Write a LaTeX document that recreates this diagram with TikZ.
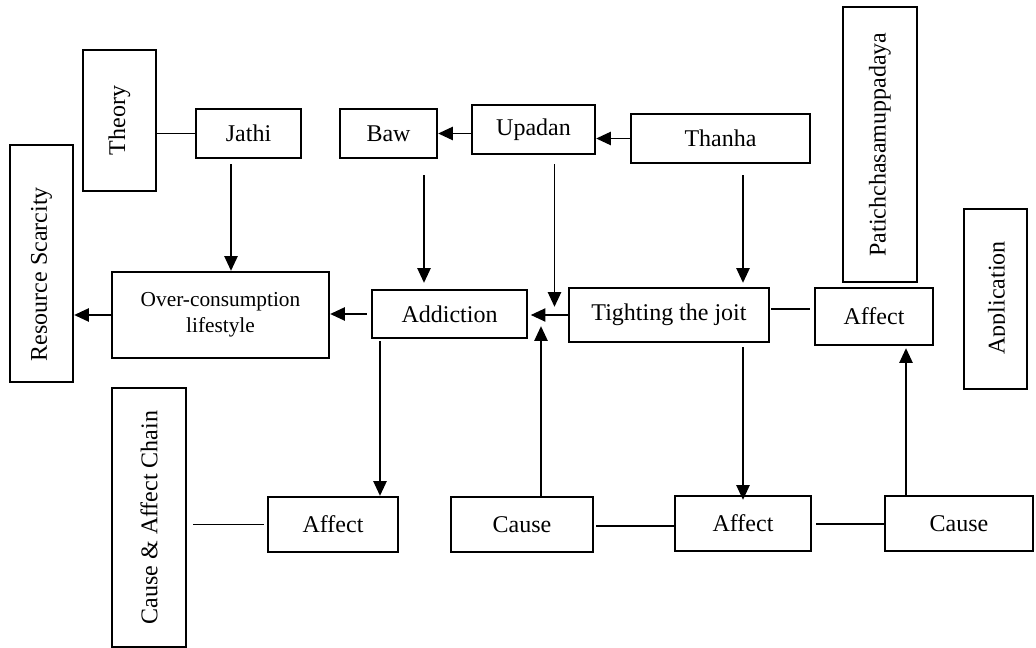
\documentclass[tikz,border=0pt]{standalone}
\usepackage{fontspec}
\setmainfont{Liberation Serif}
\usetikzlibrary{arrows.meta,calc}
\begin{document}
\begin{tikzpicture}[x=0.75pt,y=-0.75pt,
  box/.style={draw, line width=1.8pt, inner sep=0pt, align=center,
    font=\fontsize{18}{21}\selectfont},
  sz/.style 2 args={minimum width=#1*0.75pt, minimum height=#2*0.75pt},
  link/.style={line width=1pt},
  arr/.style={link, -{Triangle[length=11pt,width=10pt]}}]

\useasboundingbox (0,0) rectangle (1036,648);

% top row
\node[box, sz={73}{141}] (theory) at (119.5,120.5) {\rotatebox{90}{Theory}};
\node[box, sz={105}{49}] (jathi) at (248.5,133.5) {Jathi};
\node[box, sz={97}{49}] (baw) at (388.5,133.5) {Baw};
\node[box, sz={123}{49}] (upadan) at (533.5,129.5) {Upadan};
\node[box, sz={179}{49}] (thanha) at (720.5,138.5) {Thanha};
\node[box, sz={74}{275}] (patich) at (880,144.5) {\rotatebox{90}{Patichchasamuppadaya}};

% middle row
\node[box, sz={63}{237}] (resource) at (41.5,263.5) {\rotatebox{90}{Resource Scarcity\kern16pt}};
\node[box, sz={217}{86}, font=\fontsize{16}{19.5}\selectfont] (over) at (220.5,315) {Over-consumption\\lifestyle};
\node[box, sz={155}{48}] (addiction) at (449.5,314) {Addiction};
\node[box, sz={200}{54}] (tighting) at (669,315) {Tighting the joit};
\node[box, sz={118}{57}] (affectR) at (874,316.5) {Affect};
\node[box, sz={63}{180}] (application) at (995.5,299) {};
% the label is cut off along its baseline by the frame
\begin{scope}
  \clip (application.north west) rectangle ($(application.south east)+(-24,0)$);
  \node[rotate=90, anchor=base, inner sep=0pt, font=\fontsize{18}{21}\selectfont]
    (applicationtext) at (1004.5,298) {Application};
\end{scope}

% bottom row
\node[box, sz={74}{259}] (chain) at (149,517.5) {\rotatebox{90}{Cause \& Affect Chain}};
\node[box, sz={130}{55}] (affectL) at (333,524.5) {Affect};
\node[box, sz={142}{55}] (causeM) at (522,524.5) {Cause};
\node[box, sz={136}{55}] (affectM) at (743,523.5) {Affect};
\node[box, sz={148}{55}] (causeR) at (959,523.5) {Cause};

% links along the top row
\draw[link] (jathi.west) -- (jathi.west -| theory.east);
\draw[arr] (upadan.west |- baw.east) -- (baw.east);
\draw[arr] (thanha.west) -- (thanha.west -| upadan.east);

% downward arrows from the top row
\draw[arr] ($(jathi.south)+(-17.5,5)$) coordinate (j1) -- (j1 |- over.north);
\draw[arr] ($(baw.south)+(35.5,16)$) coordinate (b1) -- ($(b1 |- addiction.north)+(0,-6)$);
\draw[arr] ($(upadan.south)+(21,9)$) coordinate (u1) -- ($(u1 |- addiction.north)+(0,18)$);
\draw[arr] ($(thanha.south)+(22.5,11)$) coordinate (t1) -- ($(t1 |- tighting.north)+(0,-4)$);

% middle row chain
\draw[arr] (tighting.west) -- ($(tighting.west)+(-37,0)$);
\draw[arr] ($(addiction.west)+(-4,0)$) coordinate (a1) -- (a1 -| over.east);
\draw[arr] (over.west) -- (over.west -| resource.east);
\draw[link] ($(tighting.east)+(1,-6)$) coordinate (t2) -- ($(t2 -| affectR.west)+(-4,0)$);

% vertical links between middle and bottom rows
\draw[arr] ($(addiction.south)+(-69.5,2)$) coordinate (a2) -- (a2 |- affectL.north);
\draw[arr] ($(causeM.north)+(19,0)$) coordinate (c1) -- ($(c1 |- addiction.south)+(0,-13)$);
\draw[arr] ($(tighting.south)+(74,4)$) coordinate (t3) -- ($(t3 |- affectM.north)+(0,5)$);
\draw[arr] ($(causeR.north)+(-53,0)$) coordinate (c2) -- ($(c2 |- affectR.south)+(0,2)$);

% bottom row links
\draw[link] ($(affectL.west)+(-3,0)$) coordinate (l1) -- ($(l1 -| chain.east)+(6,0)$);
\draw[link] ($(causeM.east)+(2,1.5)$) coordinate (l2) -- (l2 -| affectM.west);
\draw[link] ($(affectM.east)+(4,0.5)$) coordinate (l3) -- (l3 -| causeR.west);
\end{tikzpicture}
\end{document}
